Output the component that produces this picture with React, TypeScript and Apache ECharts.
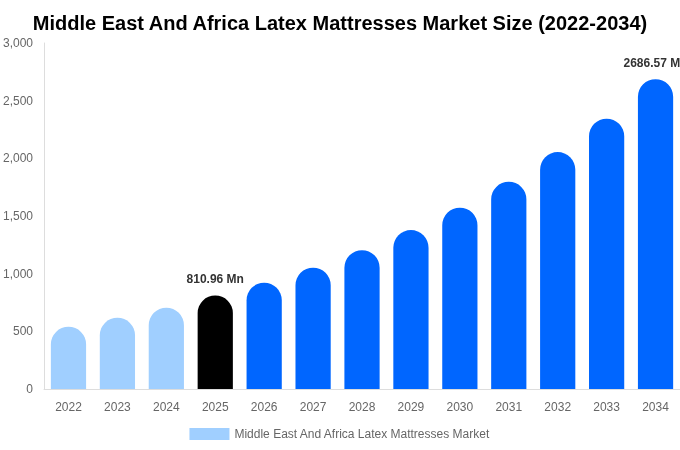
import React, { useEffect, useRef } from "react";
import * as echarts from "echarts";

const TITLE = "Middle East And Africa Latex Mattresses Market Size (2022-2034)";
const SERIES_NAME = "Middle East And Africa Latex Mattresses Market";
const years = ["2022", "2023", "2024", "2025", "2026", "2027", "2028", "2029", "2030", "2031", "2032", "2033", "2034"];
const values = [540, 618, 705, 810.96, 922, 1052, 1204, 1378, 1572, 1797, 2054, 2344, 2686.57];
const labelled = ["2025", "2034"];
const historicYears = ["2022", "2023", "2024"];
const baseYear = "2025";

const LIGHT = "#a0cfff";
const BASE = "#000000";
const BLUE = "#0066ff";

export default function App() {
  const ref = useRef<HTMLDivElement>(null);
  useEffect(() => {
    if (!ref.current) return;
    const chart = echarts.init(ref.current, undefined, { renderer: "svg" });
    const font = "'Liberation Sans', Arial, sans-serif";
    chart.setOption({
      animation: false,
      textStyle: { fontFamily: font },
      title: {
        text: TITLE,
        left: "center",
        top: 8,
        textStyle: { fontFamily: font, fontSize: 20, fontWeight: "bold", color: "#000" },
      },
      legend: {
        bottom: 5,
        left: "center",
        icon: "rect",
        itemWidth: 40,
        itemHeight: 12,
        itemGap: 10,
        textStyle: { fontFamily: font, fontSize: 12, color: "#666" },
        data: [{ name: SERIES_NAME, itemStyle: { color: LIGHT } }],
      },
      grid: { left: 44, right: 0, top: 43, bottom: 61, containLabel: false },
      xAxis: {
        type: "category",
        data: years,
        axisLine: { show: true, lineStyle: { color: "#ddd" } },
        axisTick: { show: false },
        axisLabel: { color: "#666", fontSize: 12, margin: 12, fontFamily: font },
      },
      yAxis: {
        type: "value",
        min: 0,
        max: 3000,
        interval: 500,
        axisLine: { show: true, lineStyle: { color: "#ddd" } },
        axisTick: { show: false },
        splitLine: { show: false },
        axisLabel: {
          color: "#666",
          fontSize: 12,
          margin: 11,
          fontFamily: font,
          formatter: (v: number) => v.toLocaleString("en-US"),
        },
      },
      series: [
        {
          name: SERIES_NAME,
          type: "bar",
          barWidth: "72%",
          data: years.map((y, i) => ({
            value: values[i],
            itemStyle: {
              color: historicYears.includes(y) ? LIGHT : y === baseYear ? BASE : BLUE,
              borderRadius: [18, 18, 0, 0],
            },
            label: {
              show: labelled.includes(y),
              position: "top",
              distance: 10,
              formatter: (p: any) => `${p.value} Mn`,
              fontWeight: "bold",
              fontSize: 12,
              color: "#333",
              fontFamily: font,
            },
          })),
        },
      ],
    });
    return () => chart.dispose();
  }, []);
  return <div ref={ref} style={{ position: "fixed", left: 0, top: 0, width: 680, height: 450 }} />;
}
